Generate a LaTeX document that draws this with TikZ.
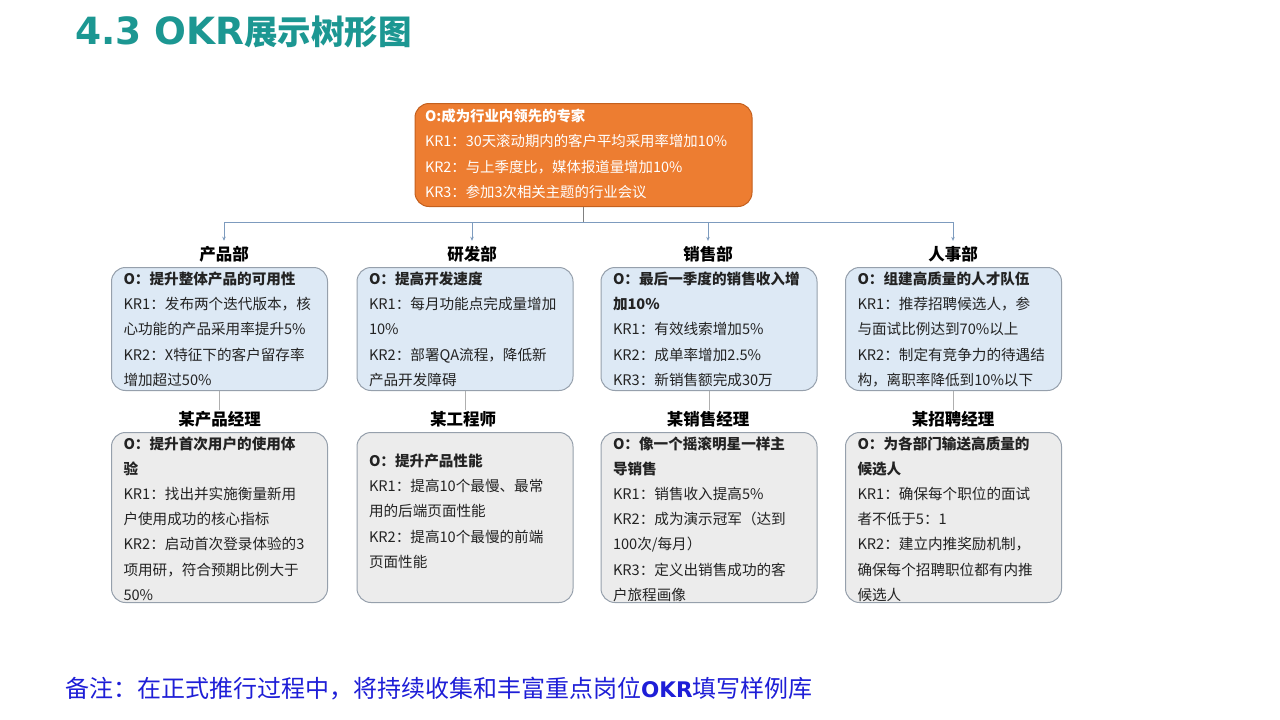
\documentclass[tikz,border=0pt]{standalone}
\usepackage{fontspec}
\setmainfont{Noto Sans CJK SC}
\newfontfamily\dejavu{DejaVu Sans}
\usetikzlibrary{arrows.meta}
\definecolor{titleteal}{RGB}{28,151,146}
\definecolor{noteblue}{RGB}{30,30,215}
\definecolor{rootfill}{RGB}{237,125,49}
\definecolor{rootline}{RGB}{196,96,30}
\definecolor{deptfill}{RGB}{221,233,245}
\definecolor{mgrfill}{RGB}{236,236,236}
\definecolor{boxline}{RGB}{150,160,172}
\definecolor{busline}{RGB}{125,155,190}
\definecolor{stemgray}{RGB}{175,175,175}
\definecolor{textgray}{RGB}{35,35,35}
\begin{document}
\begin{tikzpicture}[x=1pt, y=-1pt,
	okrbox/.style={draw=boxline, line width=1pt, rounded corners=14pt, align=left, anchor=north,
		inner xsep=12pt, inner ysep=3pt, text width=192pt, text=textgray, font=\fontsize{14.6}{25.2}\selectfont},
	deptbox/.style={okrbox, fill=deptfill, text height=14pt, text depth=103pt},
	mgrbox/.style={okrbox, fill=mgrfill, text height=13.5pt, text depth=150.5pt},
	rootbox/.style={okrbox, fill=rootfill, draw=rootline, text=white, text width=317pt, inner xsep=10pt,
		text height=14.5pt, text depth=82.5pt, font=\fontsize{14.4}{25.5}\selectfont},
	head/.style={font=\fontsize{16.5}{20}\selectfont\bfseries, inner sep=1pt, text=black},
	bus/.style={draw=busline, line width=1pt},
	stem/.style={draw=stemgray, line width=0.8pt}]
	\fill[white] (0,0) rectangle (1280,720);
	\useasboundingbox (0,0) rectangle (1280,720);
	% title and note
	\node[anchor=base west, inner sep=0pt, text=titleteal] (title) at (75,44)
		{{\dejavu\bfseries\fontsize{37.5}{40}\selectfont 4.3 OKR}{\bfseries\fontsize{33.5}{40}\selectfont 展示树形图}};
	\node[anchor=base west, inner sep=0pt, text=noteblue] (note) at (65,697)
		{\fontsize{24}{28}\selectfont 备注：在正式推行过程中，将持续收集和丰富重点岗位{\dejavu\bfseries\fontsize{21.5}{28}\selectfont OKR}填写样例库};
	% company
	\node[rootbox] (root) at (583.5,103) {\textbf{O:成为行业内领先的专家}\\
		KR1：30天滚动期内的客户平均采用率增加10\%\\
		KR2：与上季度比，媒体报道量增加10\%\\
		KR3：参加3次相关主题的行业会议};
	% departments
	\node[head] (prod) at (224,254) {产品部};
	\node[head] (rd) at (472,254) {研发部};
	\node[head] (sales) at (708,254) {销售部};
	\node[head] (hr) at (953,254) {人事部};
	\node[deptbox] (prodbox) at (219.5,267) {\textbf{O：提升整体产品的可用性}\\
		KR1：发布两个迭代版本，核\\心功能的产品采用率提升5\%\\
		KR2：X特征下的客户留存率\\增加超过50\%};
	\node[deptbox] (rdbox) at (465,267) {\textbf{O：提高开发速度}\\
		KR1：每月功能点完成量增加\\10\%\\
		KR2：部署QA流程，降低新\\产品开发障碍};
	\node[deptbox] (salesbox) at (709,267) {\textbf{O：最后一季度的销售收入增}\\\textbf{加10\%}\\
		KR1：有效线索增加5\%\\
		KR2：成单率增加2.5\%\\
		KR3：新销售额完成30万};
	\node[deptbox] (hrbox) at (953.5,267) {\textbf{O：组建高质量的人才队伍}\\
		KR1：推荐招聘候选人，参\\与面试比例达到70\%以上\\
		KR2：制定有竞争力的待遇结\\构，离职率降低到10\%以下};
	% managers
	\node[head] (prodmgr) at (219.5,419) {某产品经理};
	\node[head] (rdmgr) at (463,419) {某工程师};
	\node[head] (salesmgr) at (708,419) {某销售经理};
	\node[head] (hrmgr) at (953,419) {某招聘经理};
	\node[mgrbox] (prodmgrbox) at (219.5,432) {\textbf{O：提升首次用户的使用体}\\\textbf{验}\\
		KR1：找出并实施衡量新用\\户使用成功的核心指标\\
		KR2：启动首次登录体验的3\\项用研，符合预期比例大于\\50\%};
	\node[mgrbox, text height=31pt, text depth=133pt] (rdmgrbox) at (465,432) {\textbf{O：提升产品性能}\\
		KR1：提高10个最慢、最常\\用的后端页面性能\\
		KR2：提高10个最慢的前端\\页面性能};
	\node[mgrbox] (salesmgrbox) at (709,432) {\textbf{O：像一个摇滚明星一样主}\\\textbf{导销售}\\
		KR1：销售收入提高5\%\\
		KR2：成为演示冠军（达到\\100次/每月）\\
		KR3：定义出销售成功的客\\户旅程画像};
	\node[mgrbox] (hrmgrbox) at (953.5,432) {\textbf{O：为各部门输送高质量的}\\\textbf{候选人}\\
		KR1：确保每个职位的面试\\者不低于5：1\\
		KR2：建立内推奖励机制，\\确保每个招聘职位都有内推\\候选人};
	% connectors
	\coordinate (bus) at (583.5,222);
	\draw[line width=1pt, draw=gray] (root.south) -- (bus);
	\draw[bus] (prod |- bus) -- (hr |- bus);
	\foreach \d in {prod,rd,sales,hr}
	\draw[bus, -{Stealth[length=4pt,width=3.5pt]}, shorten >=4pt] (\d |- bus) -- (\d.north);
	\foreach \d in {prod,rd,sales,hr}
	\draw[stem] (\d box.south) -- (\d box.south |- \d mgr.north);
\end{tikzpicture}
\end{document}
